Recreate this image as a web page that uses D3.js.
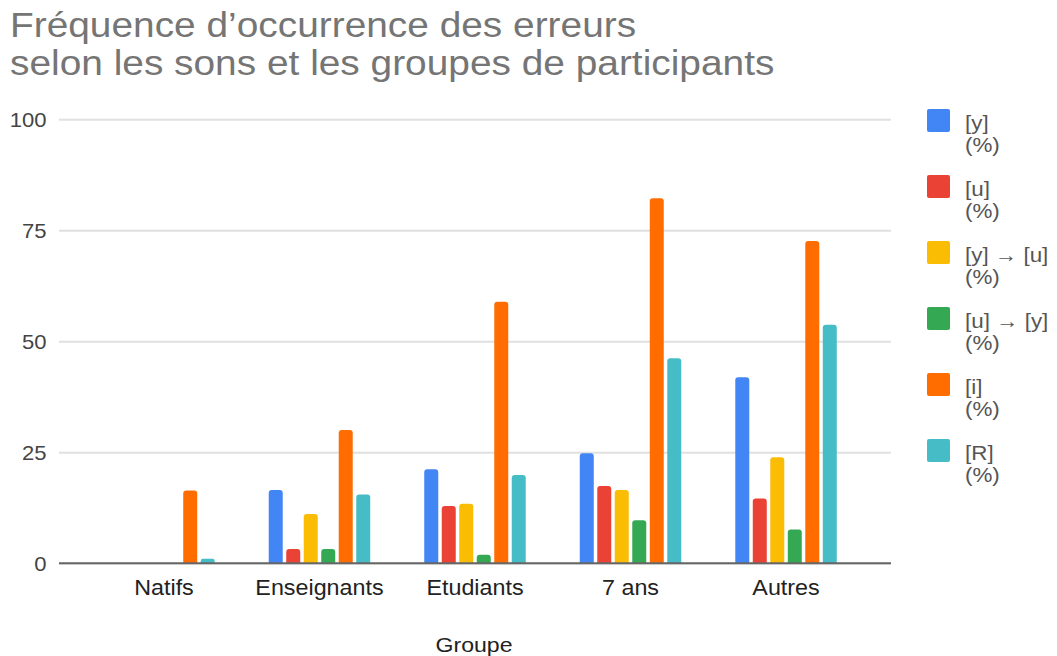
<!DOCTYPE html>
<html>
<head>
<meta charset="utf-8">
<script src="https://cdn.jsdelivr.net/npm/d3@7"></script>
<style>
	body { margin: 0; background: #fff; }
	svg { display: block; font-family: "Liberation Sans", Arial, sans-serif; }
</style>
</head>
<body>
<svg id="chart" width="1057" height="656"></svg>
<script>
var groups = ["Natifs", "Enseignants", "Etudiants", "7 ans", "Autres"];
var seriesNames = ["[y]", "[u]", "[y] \u2192 [u]", "[u] \u2192 [y]", "[i]", "[R]"];
var seriesColors = ["#4285f4", "#ea4335", "#fbbc04", "#34a853", "#ff6d01", "#46bdc6"];

// one array per series, in group order
var vY = [0, 16.5, 21.2, 24.8, 41.9];
var vU = [0, 3.2, 12.9, 17.4, 14.6];
var vYU = [0, 11.1, 13.4, 16.5, 23.9];
var vUY = [0, 3.2, 1.9, 9.7, 7.6];
var vI = [16.4, 30.0, 58.9, 82.2, 72.6];
var vR = [1.0, 15.5, 19.9, 46.2, 53.7];
var seriesValues = [vY, vU, vYU, vUY, vI, vR];

var yTicks = [0, 25, 50, 75, 100];
var titleLines = ["Fréquence d’occurrence des erreurs", "selon les sons et les groupes de participants"];
var xTitle = "Groupe";

var svg = d3.select("#chart");
var plotLeft = 59, plotRight = 891, plotTop = 119.3, plotBottom = 563.3;

// the reference text is a little wider than Arial, stretch it sideways
function placeText(sel, fx, fy, sx) {
	sel.attr("transform", function(d, i) {
		return "translate(" + fx(d, i) + "," + fy(d, i) + ") scale(" + sx + ",1)";
	});
}

var x0 = d3.scaleBand()
	.domain(groups)
	.range([plotLeft, plotRight])
	.paddingInner(0)
	.paddingOuter(0.175);

var x1 = d3.scaleBand()
	.domain(d3.range(seriesNames.length))
	.range([0, 101.5])
	.paddingInner(0.2)
	.paddingOuter(0);

var y = d3.scaleLinear()
	.domain([0, 100])
	.range([plotBottom, plotTop]);

// title
svg.append("g")
	.selectAll("text")
	.data(titleLines)
	.enter()
	.append("text")
	.attr("font-size", "35px")
	.attr("fill", "#757575")
	.text(function(d) { return d; })
	.call(placeText, function() { return 10; }, function(d, i) { return 37 + i * 38; }, 1.11);

// gridlines + tick labels
var yAxis = d3.axisLeft(y)
	.tickValues(yTicks)
	.tickSize(-(plotRight - plotLeft))
	.tickPadding(12)
	.tickFormat(d3.format("d"));

var yg = svg.append("g")
	.attr("transform", "translate(" + plotLeft + ",0)")
	.call(yAxis);
yg.select(".domain").remove();
yg.selectAll(".tick line")
	.attr("stroke", "#e0e0e0")
	.attr("stroke-width", 2);
yg.selectAll(".tick text")
	.attr("font-size", "21px")
	.attr("fill", "#444")
	.attr("font-family", "Liberation Sans, Arial, sans-serif")
	.attr("transform", "scale(1.05,1)");

// bars
var bar = svg.append("g")
	.selectAll("g")
	.data(groups)
	.enter()
	.append("g")
	.attr("transform", function(d) {
		return "translate(" + (x0(d) + (x0.bandwidth() - 101.5) / 2) + ",0)";
	});

bar.selectAll("path")
	.data(function(d, gi) {
		return seriesValues.map(function(s, si) { return { si: si, v: s[gi] }; });
	})
	.enter()
	.filter(function(d) { return d.v > 0; })
	.append("path")
	.attr("fill", function(d) { return seriesColors[d.si]; })
	.attr("d", function(d) {
		var bx = x1(d.si), w = x1.bandwidth(), top = y(d.v), bot = y(0);
		var r = Math.min(3, (bot - top) / 2);
		return "M" + bx + "," + bot +
			"V" + (top + r) +
			"Q" + bx + "," + top + " " + (bx + r) + "," + top +
			"H" + (bx + w - r) +
			"Q" + (bx + w) + "," + top + " " + (bx + w) + "," + (top + r) +
			"V" + bot + "Z";
	});

// baseline
svg.append("line")
	.attr("x1", plotLeft)
	.attr("x2", plotRight)
	.attr("y1", y(0))
	.attr("y2", y(0))
	.attr("stroke", "#666")
	.attr("stroke-width", 2);

// category labels
svg.append("g")
	.selectAll("text")
	.data(groups)
	.enter()
	.append("text")
	.attr("text-anchor", "middle")
	.attr("font-size", "22px")
	.attr("fill", "#222")
	.text(function(d) { return d; })
	.call(placeText, function(d) { return x0(d) + x0.bandwidth() / 2; }, function() { return 595; }, 1.06);

svg.append("text")
	.attr("text-anchor", "middle")
	.attr("font-size", "21px")
	.attr("fill", "#222")
	.text(xTitle)
	.call(placeText, function() { return 474; }, function() { return 652; }, 1.1);

// legend
var legend = svg.append("g")
	.selectAll("g")
	.data(seriesNames)
	.enter()
	.append("g")
	.attr("transform", function(d, i) { return "translate(927," + (109 + i * 66) + ")"; });

legend.append("rect")
	.attr("width", 23)
	.attr("height", 23)
	.attr("rx", 2)
	.attr("fill", function(d, i) { return seriesColors[i]; });

legend.append("text")
	.attr("font-size", "20px")
	.attr("fill", "#555")
	.text(function(d) { return d; })
	.call(placeText, function() { return 38; }, function() { return 21; }, 1.12);

legend.append("text")
	.attr("font-size", "20px")
	.attr("fill", "#555")
	.text("(%)")
	.call(placeText, function() { return 38; }, function() { return 43; }, 1.12);
</script>
</body>
</html>
